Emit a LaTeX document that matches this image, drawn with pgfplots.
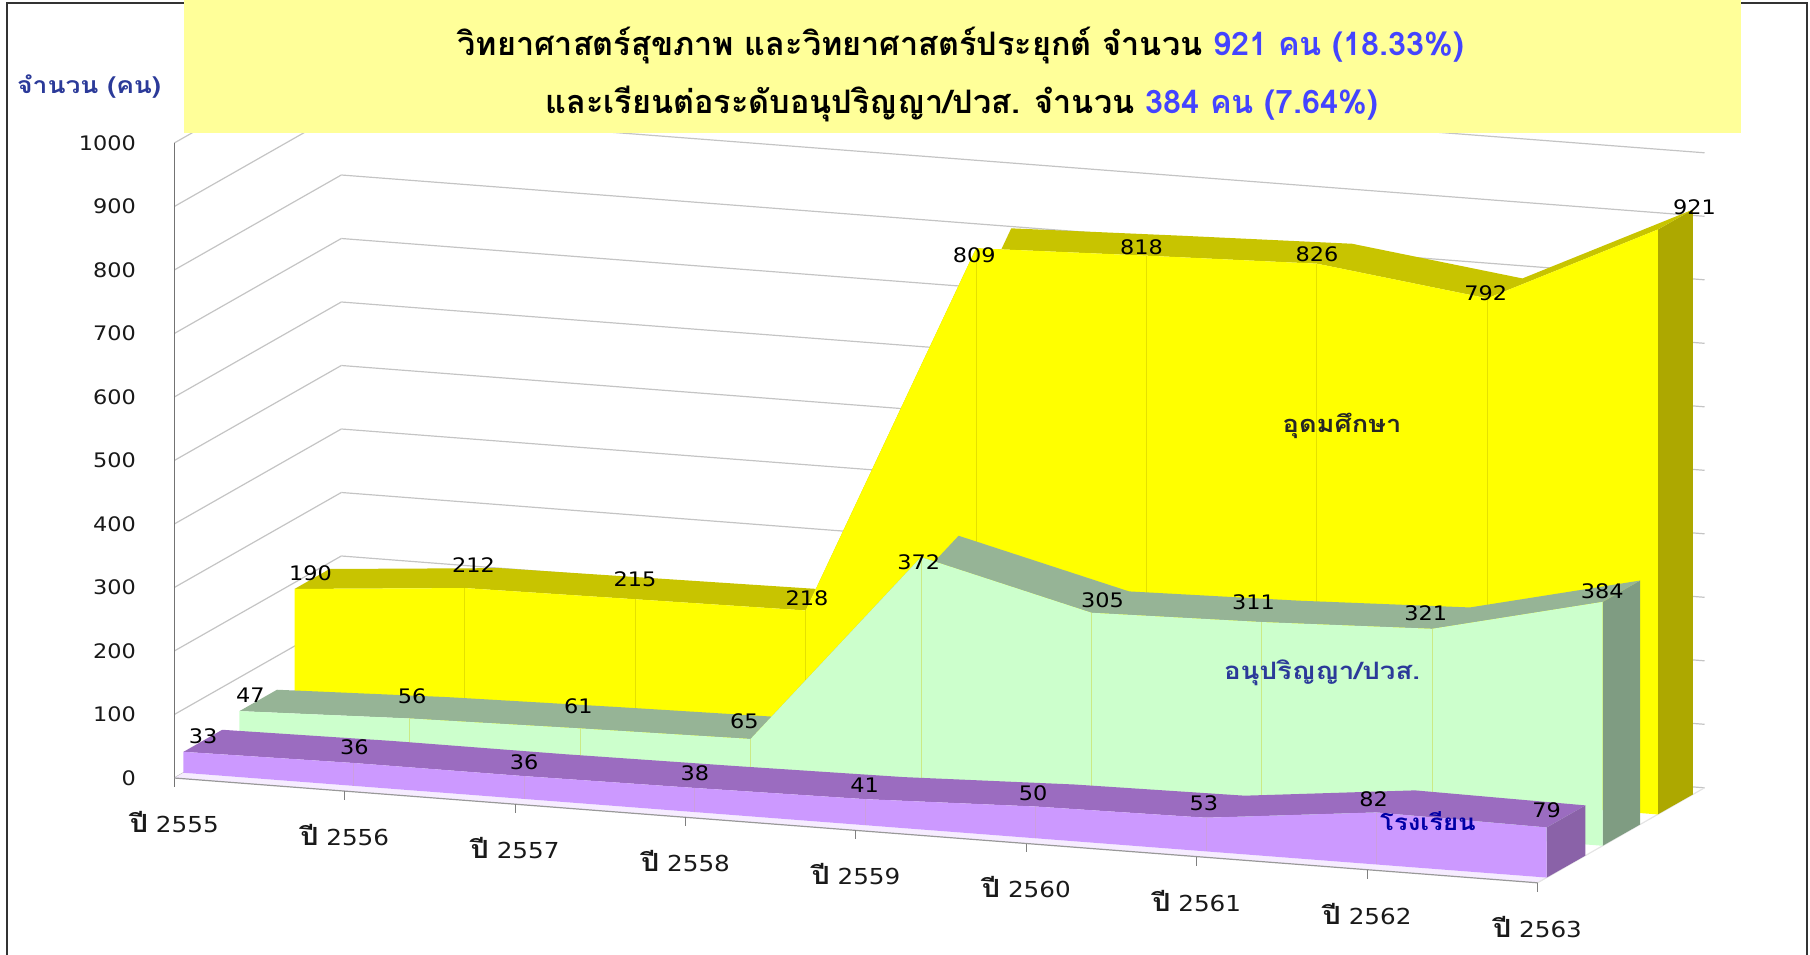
\documentclass[border=0pt]{standalone}
\usepackage{fontspec}
\usepackage{pgfplots}
\pgfplotsset{compat=1.18}
\newfontfamily\thaifont[Script=Thai]{Loma}
\newfontfamily\thaiwide[Script=Thai,FakeStretch=1.15]{Loma}
\newfontfamily\numfont[FakeStretch=1.12]{DejaVu Sans}
\definecolor{yfront}{HTML}{FFFF00}
\definecolor{ytop}{HTML}{C8C400}
\definecolor{yside}{HTML}{ADA800}
\definecolor{gfront}{HTML}{CCFFCC}
\definecolor{gtop}{HTML}{96B496}
\definecolor{gside}{HTML}{7F9C82}
\definecolor{pfront}{HTML}{CC99FF}
\definecolor{ptop}{HTML}{9B6CC0}
\definecolor{pside}{HTML}{8A62A8}
\definecolor{floorp}{HTML}{F6ECFF}
\definecolor{gridc}{HTML}{C4C4C4}
\definecolor{titlebg}{HTML}{FFFF99}
\definecolor{titleblue}{HTML}{4444FF}
\definecolor{navy}{HTML}{2B3A99}
\newcommand{\yr}{{\thaiwide\bfseries\fontsize{12.5}{13}\selectfont ปี}}
\pgfplotsset{
  vallabel/.style={draw=none, mark=none, point meta=z, nodes near coords,
    nodes near coords align=center,
    every node near coord/.style={anchor=center, inner sep=0pt, font=\numfont\fontsize{10}{12}\selectfont, text=black},
  },
  droplines/.style={mark=none, unbounded coords=jump},
}
\begin{document}
\begin{tikzpicture}
\path[use as bounding box] (0,0) rectangle (905pt,477pt);
\begin{axis}[
  at={(87.15pt,88pt)}, anchor=origin,
  x={(85.2pt,-6.55pt)}, y={(83.5pt,47.5pt)}, z={(0pt,0.3175pt)},
  xmin=0, xmax=8, ymin=0, ymax=1, zmin=0, zmax=1000,
  clip=false,
  xtick={0,1,2,3,4,5,6,7,8},
  xticklabels={\yr{} 2555,\yr{} 2556,\yr{} 2557,\yr{} 2558,\yr{} 2559,\yr{} 2560,\yr{} 2561,\yr{} 2562,\yr{} 2563},
  ytick=\empty,
  ztick={0,100,200,300,400,500,600,700,800,900,1000},
  zmajorgrids=true,
  grid style={gridc, line width=0.6pt},
  major tick length=0pt,
  axis line style={draw=none},
  /pgf/number format/assume math mode=true,
  /pgf/number format/1000 sep={},
  tick label style={font=\numfont\fontsize{10}{12}\selectfont, text=black!90},
  z tick label style={anchor=east, inner sep=0pt, xshift=-19pt},
  x tick label style={anchor=center, inner sep=0pt, yshift=-22pt, font=\numfont\fontsize{11}{12}\selectfont},
]
% floor strip
\addplot3[fill=floorp, draw=none] coordinates {(0,0,0)(8,0,0)(8,0.055,0)(0,0.055,0)} -- cycle;
% faint right floor edge
\addplot3[mark=none, draw=gridc!45, line width=0.6pt] coordinates {(8,0,0)(8,1,0)};
% axis lines
\addplot3[mark=none, draw=black!55, line width=0.6pt] coordinates {(0,0,1000)(0,0,-14)};
\addplot3[mark=none, draw=black!40, line width=0.6pt] coordinates {(0,0,0)(8,0,0)};
% x tick marks
\addplot3[droplines, draw=black!50, line width=0.5pt] coordinates {(1,0,0)(1,0,-14)(nan,nan,nan)(2,0,0)(2,0,-14)(nan,nan,nan)(3,0,0)(3,0,-14)(nan,nan,nan)(4,0,0)(4,0,-14)(nan,nan,nan)(5,0,0)(5,0,-14)(nan,nan,nan)(6,0,0)(6,0,-14)(nan,nan,nan)(7,0,0)(7,0,-14)(nan,nan,nan)(8,0,0)(8,0,-14)};
% ---- university (yellow)
\addplot3[fill=yside, draw=none] coordinates {(8,0.72,0)(8,0.93,0)(8,0.93,921)(8,0.72,921)} -- cycle;
\addplot3[fill=ytop, draw=none] coordinates {(0,0.72,190)(1,0.72,212)(2,0.72,215)(3,0.72,218)(4,0.72,809)(5,0.72,818)(6,0.72,826)(7,0.72,792)(8,0.72,921)(8,0.93,921)(7,0.93,792)(6,0.93,826)(5,0.93,818)(4,0.93,809)(3,0.93,218)(2,0.93,215)(1,0.93,212)(0,0.93,190)} -- cycle;
\addplot3[fill=yfront, draw=none] coordinates {(0,0.72,0)(0,0.72,190)(1,0.72,212)(2,0.72,215)(3,0.72,218)(4,0.72,809)(5,0.72,818)(6,0.72,826)(7,0.72,792)(8,0.72,921)(8,0.72,0)} -- cycle;
\addplot3[droplines, draw=ytop!50!yfront, line width=0.5pt] coordinates {(1,0.72,0)(1,0.72,212)(nan,nan,nan)(2,0.72,0)(2,0.72,215)(nan,nan,nan)(3,0.72,0)(3,0.72,218)(nan,nan,nan)(4,0.72,0)(4,0.72,809)(nan,nan,nan)(5,0.72,0)(5,0.72,818)(nan,nan,nan)(6,0.72,0)(6,0.72,826)(nan,nan,nan)(7,0.72,0)(7,0.72,792)};
% ---- diploma (green)
\addplot3[fill=gside, draw=none] coordinates {(8,0.39,0)(8,0.615,0)(8,0.615,384)(8,0.39,384)} -- cycle;
\addplot3[fill=gtop, draw=none] coordinates {(0,0.39,47)(1,0.39,56)(2,0.39,61)(3,0.39,65)(4,0.39,372)(5,0.39,305)(6,0.39,311)(7,0.39,321)(8,0.39,384)(8,0.615,384)(7,0.615,321)(6,0.615,311)(5,0.615,305)(4,0.615,372)(3,0.615,65)(2,0.615,61)(1,0.615,56)(0,0.615,47)} -- cycle;
\addplot3[fill=gfront, draw=none] coordinates {(0,0.39,0)(0,0.39,47)(1,0.39,56)(2,0.39,61)(3,0.39,65)(4,0.39,372)(5,0.39,305)(6,0.39,311)(7,0.39,321)(8,0.39,384)(8,0.39,0)} -- cycle;
\addplot3[droplines, draw=gfront!65!ytop, line width=0.5pt] coordinates {(1,0.39,0)(1,0.39,56)(nan,nan,nan)(2,0.39,0)(2,0.39,61)(nan,nan,nan)(3,0.39,0)(3,0.39,65)(nan,nan,nan)(4,0.39,0)(4,0.39,372)(nan,nan,nan)(5,0.39,0)(5,0.39,305)(nan,nan,nan)(6,0.39,0)(6,0.39,311)(nan,nan,nan)(7,0.39,0)(7,0.39,321)};
% ---- school (purple)
\addplot3[fill=pside, draw=none] coordinates {(8,0.055,0)(8,0.287,0)(8,0.287,79)(8,0.055,79)} -- cycle;
\addplot3[fill=ptop, draw=none] coordinates {(0,0.055,33)(1,0.055,36)(2,0.055,36)(3,0.055,38)(4,0.055,41)(5,0.055,50)(6,0.055,53)(7,0.055,82)(8,0.055,79)(8,0.287,79)(7,0.287,82)(6,0.287,53)(5,0.287,50)(4,0.287,41)(3,0.287,38)(2,0.287,36)(1,0.287,36)(0,0.287,33)} -- cycle;
\addplot3[fill=pfront, draw=none] coordinates {(0,0.055,0)(0,0.055,33)(1,0.055,36)(2,0.055,36)(3,0.055,38)(4,0.055,41)(5,0.055,50)(6,0.055,53)(7,0.055,82)(8,0.055,79)(8,0.055,0)} -- cycle;
\addplot3[droplines, draw=pfront!88!ytop, line width=0.4pt] coordinates {(1,0.055,0)(1,0.055,36)(nan,nan,nan)(2,0.055,0)(2,0.055,36)(nan,nan,nan)(3,0.055,0)(3,0.055,38)(nan,nan,nan)(4,0.055,0)(4,0.055,41)(nan,nan,nan)(5,0.055,0)(5,0.055,50)(nan,nan,nan)(6,0.055,0)(6,0.055,53)(nan,nan,nan)(7,0.055,0)(7,0.055,82)};
% value labels
\addplot3[vallabel] coordinates {(-0.056,0.873,190)(0.839,0.935,212)(1.818,0.903,215)(2.891,0.838,218)(4.052,0.656,809)(4.895,0.797,818)(5.912,0.81,826)(6.944,0.767,792)(7.991,0.949,921)};
\addplot3[vallabel] coordinates {(-0.091,0.549,47)(0.807,0.6,56)(1.79,0.593,61)(2.81,0.547,65)(4.033,0.343,372)(4.942,0.515,305)(5.78,0.565,311)(6.822,0.532,321)(7.899,0.491,384)};
\addplot3[vallabel] coordinates {(-0.037,0.211,33)(0.856,0.205,36)(1.869,0.187,36)(2.869,0.19,38)(3.869,0.186,41)(4.866,0.178,50)(5.86,0.186,53)(6.863,0.179,82)(7.845,0.213,79)};
\end{axis}
\begin{scope}[shift={(0,477pt)}, x=0.5pt, y=-0.5pt]
  \draw[black!80, line width=1.2pt] (7,960) -- (7,3) -- (1807,3) -- (1807,960);
  \fill[titlebg] (183.5,-2) rectangle (1741,133);
  \node[font=\thaifont\bfseries\fontsize{16.2}{18}\selectfont] at (961,46) {วิทยาศาสตร์สุขภาพ และวิทยาศาสตร์ประยุกต์ จำนวน \textcolor{titleblue}{921 คน (18.33\%)}};
  \node[font=\thaifont\bfseries\fontsize{16.2}{18}\selectfont] at (962,104) {และเรียนต่อระดับอนุปริญญา/ปวส. จำนวน \textcolor{titleblue}{384 คน (7.64\%)}};
  \node[font=\thaiwide\bfseries\fontsize{11.5}{13}\selectfont, text=navy] at (89,87) {จำนวน (คน)};
  \node[font=\thaiwide\bfseries\fontsize{11.8}{13}\selectfont, text=black!85] at (1342,426) {อุดมศึกษา};
  \node[font=\thaiwide\bfseries\fontsize{12}{13}\selectfont, text=navy] at (1322,673) {อนุปริญญา/ปวส.};
  \node[font=\thaiwide\bfseries\fontsize{11.2}{13}\selectfont, text=blue!65!black] at (1428,821) {โรงเรียน};
\end{scope}
\end{tikzpicture}
\end{document}
